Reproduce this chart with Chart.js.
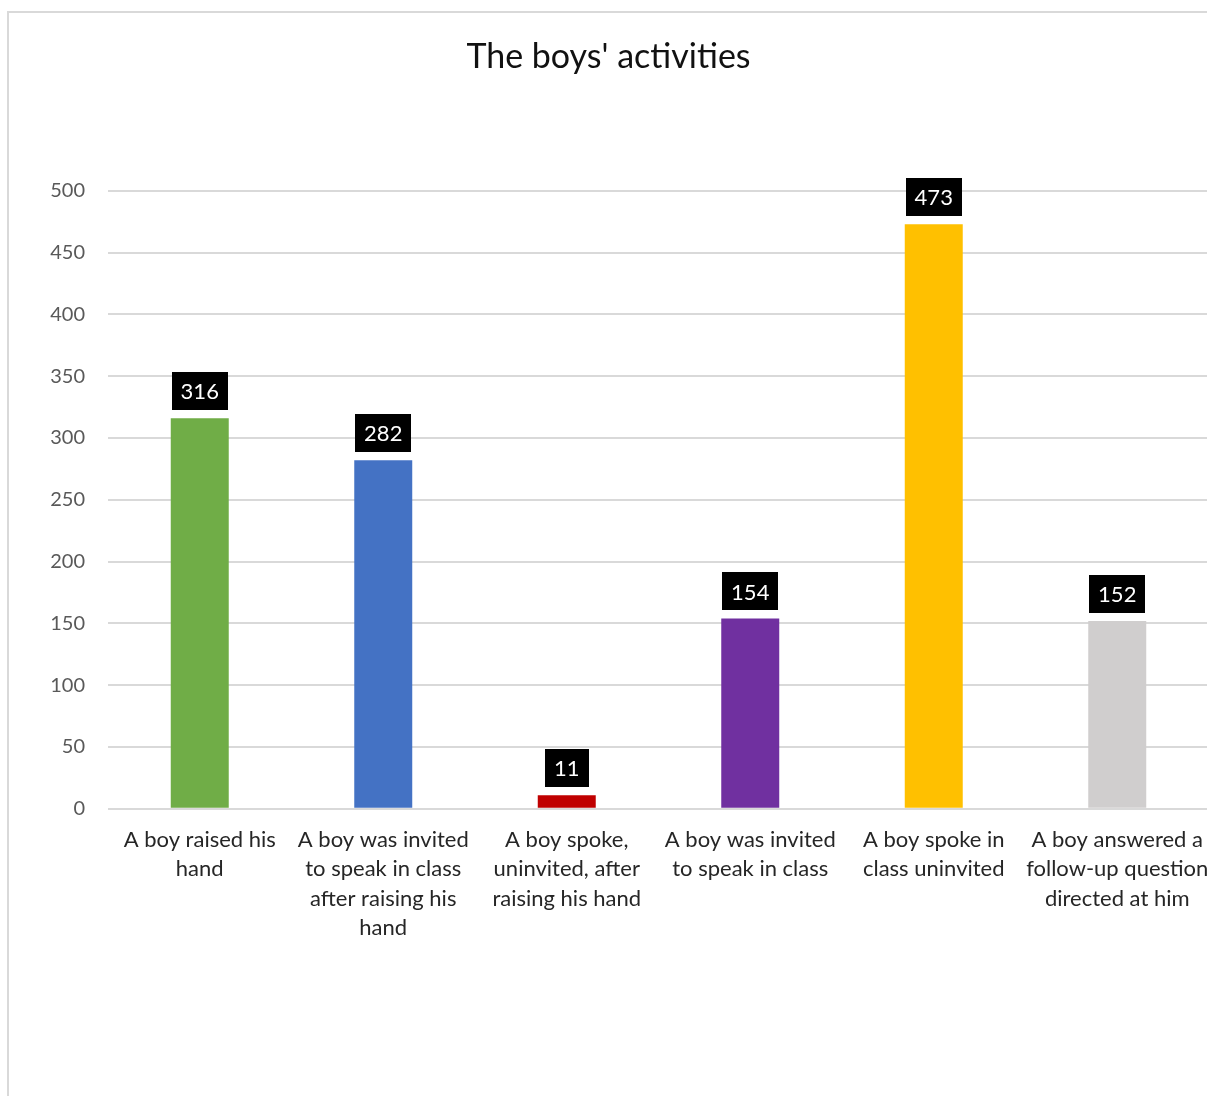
<!DOCTYPE html>
<html>
<head>
<meta charset="utf-8">
<script src="https://cdn.jsdelivr.net/npm/chart.js@4/dist/chart.umd.min.js"></script>
<style>
  html, body { margin: 0; padding: 0; background: #fff; overflow: hidden; width: 1207px; height: 1096px; }
  #frame { position: absolute; left: 7px; top: 11px; width: 1210px; height: 1100px;
           border-left: 2px solid #d9d9d9; border-top: 2px solid #d9d9d9; }
  #wrap { position: absolute; left: -1px; top: -1px; width: 1210px; height: 1090px; }
</style>
</head>
<body>
<div id="frame"><div id="wrap"><canvas id="c"></canvas></div></div>
<script>
const categories = [
  ["A boy raised his", "hand"],
  ["A boy was invited", "to speak in class", "after raising his", "hand"],
  ["A boy spoke,", "uninvited, after", "raising his hand"],
  ["A boy was invited", "to speak in class"],
  ["A boy spoke in", "class uninvited"],
  ["A boy answered a", "follow-up question", "directed at him"]
];
const counts = [316, 282, 11, 154, 473, 152];
const barColors = ["#70AD47", "#4472C4", "#C00000", "#7030A0", "#FFC000", "#D0CECE"];
const yTicks = [0, 50, 100, 150, 200, 250, 300, 350, 400, 450, 500];

const FONT = "Lato, 'Open Sans', sans-serif";

// Black value boxes above each bar
const valueBoxes = {
  id: 'valueBoxes',
  afterDatasetsDraw(chart) {
    const ctx = chart.ctx;
    const meta = chart.getDatasetMeta(0);
    ctx.save();
    ctx.font = "22px " + FONT;
    ctx.textAlign = 'center';
    ctx.textBaseline = 'middle';
    meta.data.forEach((bar, i) => {
      const txt = String(chart.data.datasets[0].data[i]);
      const w = ctx.measureText(txt).width + 18;
      const h = 38;
      const bottom = bar.y - 8;
      ctx.fillStyle = '#000';
      ctx.fillRect(Math.round(bar.x - w / 2), Math.round(bottom - h), Math.round(w), h);
      ctx.fillStyle = '#fff';
      ctx.fillText(txt, bar.x, bottom - h / 2 + 1);
    });
    ctx.restore();
  }
};

new Chart(document.getElementById('c'), {
  type: 'bar',
  data: {
    labels: categories,
    datasets: [{
      data: counts,
      backgroundColor: barColors,
      borderWidth: 0,
      categoryPercentage: 1.0,
      barPercentage: 0.316
    }]
  },
  options: {
    responsive: true,
    maintainAspectRatio: false,
    animation: false,
    devicePixelRatio: 1,
    layout: { padding: { left: 0, right: 9, top: 0, bottom: 143 } },
    plugins: {
      legend: { display: false },
      tooltip: { enabled: false },
      title: {
        display: true,
        text: "The boys' activities",
        color: '#111',
        font: { family: FONT, size: 34, weight: 'normal' },
        padding: { top: 25, bottom: 113 }
      }
    },
    scales: {
      x: {
        afterFit(scale) { scale.paddingLeft = 0; scale.paddingRight = 0; },
        grid: { display: false, drawTicks: false },
        border: { display: false },
        ticks: {
          color: '#262626',
          font: { family: FONT, size: 22, lineHeight: 1.32 },
          padding: 17,
          maxRotation: 0,
          autoSkip: false
        }
      },
      y: {
        min: 0,
        max: 500,
        afterFit(scale) { scale.width = 100; },
        afterBuildTicks(scale) { scale.ticks = yTicks.map(v => ({ value: v })); },
        grid: { color: '#d9d9d9', lineWidth: 2, drawTicks: false },
        border: { display: false },
        ticks: {
          color: '#595959',
          font: { family: FONT, size: 20 },
          padding: 23
        }
      }
    }
  },
  plugins: [valueBoxes]
});
</script>
</body>
</html>
